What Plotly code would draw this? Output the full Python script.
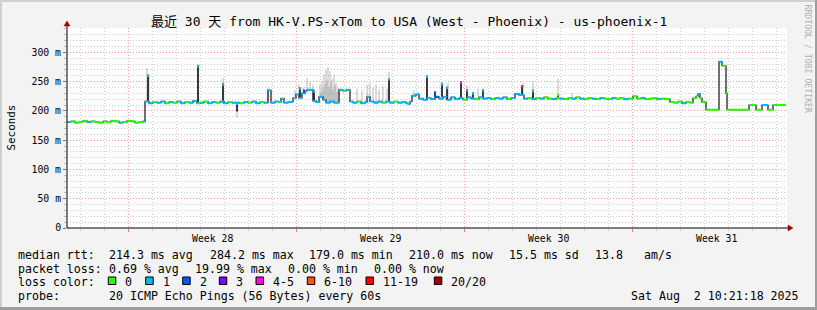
import plotly.graph_objects as go

# ---------------- data (time in hours since start of the 30-day window) ----------------
T_END = 719

med_t = [0, 4, 8, 12, 16, 20, 24, 28, 32, 36, 40, 44, 48, 52, 56, 60, 64, 68, 72, 76,
         78, 82, 86, 90, 94, 98, 102, 106, 110, 114, 118, 122, 126, 130,
         133, 137, 141, 145, 149, 153, 157, 161, 165, 169, 173, 177, 181, 185, 189, 193, 197,
         201, 204, 208, 212, 214, 217, 221, 225,
         226, 229, 232, 235, 238, 240, 246, 249, 252, 256, 259, 263,
         267, 272, 276, 279, 283, 286, 290, 294, 298, 300, 303, 307,
         311, 315, 319, 323, 327, 331, 335, 339, 341, 343, 345, 349,
         352, 356, 360, 364, 368, 372, 376, 380, 384, 388, 392, 396, 400, 404, 408, 412,
         416, 420, 424, 428, 432, 436, 440, 444, 448, 452, 457, 461, 465, 469, 473, 477,
         481, 485, 489, 493, 497, 501, 505, 509, 513, 517, 521, 525, 529, 533, 537, 541,
         545, 549, 553, 557, 561, 566, 570, 574, 578, 582, 586, 590, 594, 598, 603, 607,
         611, 615, 619, 623, 626, 629, 631, 633, 635, 639, 652, 655, 659, 660, 682, 689, 695, 701,
         706]
med_ms = [181, 182, 180, 181, 183, 181, 182, 181, 180, 182, 181, 183, 182, 180, 181, 183, 182, 180, 181, 182,
          216, 213, 215, 214, 216, 213, 215, 214, 216, 213, 215, 214, 217, 213,
          214, 216, 213, 215, 214, 216, 213, 215, 214, 214, 213, 215, 214, 216, 213, 215, 214,
          235, 214, 216, 215, 221, 214, 215, 216,
          222, 228, 222, 230, 234, 236, 217, 215, 224, 219, 214, 216,
          214, 236, 234, 236, 216, 214, 216, 213, 215, 224, 216, 214,
          216, 214, 216, 214, 216, 214, 215, 213, 212, 216, 226, 228,
          221, 219, 222, 220, 224, 221, 224, 219, 223, 220, 222, 219, 223, 221, 220, 223,
          221, 222, 220, 222, 221, 223, 220, 222, 229, 227, 221, 222, 220, 222, 221, 223,
          221, 220, 222, 221, 220, 222, 221, 223, 221, 220, 222, 221, 220, 222, 221, 220,
          222, 221, 222, 220, 221, 225, 221, 222, 220, 221, 222, 220, 221, 220, 215, 214,
          216, 213, 215, 214, 222, 225, 229, 222, 215, 202, 284, 277, 230, 202, 210, 202, 210, 202,
          210]
med_loss = [1, 0, 0, 0, 0, 1, 0, 0, 0, 0, 0, 0, 0, 1, 0, 0, 0, 0, 0, 1,
            1, 1, 0, 1, 1, 0, 1, 0, 1, 1, 0, 1, 1, 0,
            1, 0, 1, 1, 0, 1, 1, 0, 1, 1, 0, 1, 0, 1, 1, 0, 1,
            1, 1, 1, 0, 1, 1, 1, 1,
            1, 1, 1, 1, 1, 1, 1, 1, 1, 1, 1, 1,
            1, 1, 0, 1, 1, 1, 0, 1, 1, 1, 1, 1,
            1, 0, 1, 1, 0, 1, 1, 1, 1, 1, 1, 1,
            1, 1, 1, 1, 2, 1, 1, 1, 1, 1, 1, 0, 1, 1, 0, 1,
            1, 1, 0, 1, 1, 1, 0, 1, 1, 1, 1, 0, 1, 0, 1, 0,
            0, 1, 0, 1, 0, 0, 1, 0, 1, 0, 0, 1, 0, 1, 0, 0,
            1, 0, 0, 1, 0, 0, 0, 1, 0, 0, 0, 1, 0, 0, 0, 0,
            0, 1, 0, 0, 0, 0, 1, 0, 0, 0, 1, 0, 0, 0, 0, 0, 1, 0,
            0]

# dense-smoke (dark) spikes
spike_t = [81, 131, 156, 170, 233, 237, 247, 322, 360, 368, 375, 380, 394, 400, 406, 416, 455, 466, 491]
spike_lo = [216, 214, 214, 199, 222, 230, 217, 215, 221, 224, 224, 219, 222, 223, 221, 221, 227, 222, 220]
spike_hi = [262, 278, 247, 214, 240, 236, 235, 256, 260, 233, 247, 241, 250, 237, 232, 237, 244, 236, 229]
spike_loss = [1, 1, 1, 1, 1, 3, 1, 1, 1, 2, 1, 1, 4, 1, 1, 1, 4, 1, 0]

# light smoke
smoke_t = [80, 82, 131, 156, 170, 201, 228, 232, 236, 240, 243, 246, 253, 254, 255, 256, 257, 258, 259, 260,
           261, 262, 263, 264, 265, 266, 267, 268, 269, 270, 271, 290, 295, 300, 303, 306, 309, 312, 316, 320,
           322, 347, 360, 375, 381, 394, 400, 411, 456, 466, 491, 505]
smoke_lo = [215, 215, 214, 214, 188, 214, 222, 222, 228, 234, 234, 217, 224, 224, 222, 219, 219, 219, 219, 214,
            214, 216, 214, 216, 216, 214, 216, 214, 214, 214, 214, 216, 213, 224, 216, 214, 214, 216, 214, 216,
            215, 226, 221, 224, 219, 222, 223, 223, 227, 222, 220, 221]
smoke_hi = [273, 262, 280, 256, 214, 240, 235, 245, 240, 256, 250, 245, 245, 232, 250, 238, 262, 246, 270, 252,
            275, 240, 268, 248, 255, 236, 262, 244, 248, 232, 240, 238, 235, 244, 247, 240, 245, 236, 242, 238,
            267, 235, 262, 250, 248, 250, 244, 238, 248, 250, 255, 230]

week_t = [61, 229, 397, 565]
week_labels = ["Week 28", "Week 29", "Week 30", "Week 31"]
y_ticks = [0, 50, 100, 150, 200, 250, 300]
y_ticktext = ["0", "50 m", "100 m", "150 m", "200 m", "250 m", "300 m"]

loss_labels = ["0", "1", "2", "3", "4-5", "6-10", "11-19", "20/20"]
loss_colors = ["#26ff00", "#00b8ff", "#0059ff", "#7e00ff", "#ff00ea", "#ff5500", "#ff0000", "#a10000"]

title = "最近 30 天 from HK-V.PS-xTom to USA (West - Phoenix) - us-phoenix-1"
rtt_items = ["214.3 ms avg", "284.2 ms max", "179.0 ms min", "210.0 ms now", "15.5 ms sd", "13.8", "am/s"]
loss_items = ["0.69 % avg", "19.99 % max", "0.00 % min", "0.00 % now"]
probe_text = "20 ICMP Echo Pings (56 Bytes) every 60s"
date_text = "Sat Aug  2 10:21:18 2025"

# ---------------- layout helpers ----------------
W, H = 817, 310
L, R, T, B = 67, 30, 28, 82
PW, PH = W - L - R, H - T - B
BASE = H - B
MONO = "DejaVu Sans Mono"


def px(x):
    return (x - L) / PW


def py(y):
    return (BASE - y) / PH


def bucket(n):
    if n <= 3:
        return n
    if n <= 5:
        return 4
    if n <= 10:
        return 5
    if n <= 19:
        return 6
    return 7


fig = go.Figure()

# light smoke
sx, sy = [], []
for t, lo, hi in zip(smoke_t, smoke_lo, smoke_hi):
    sx += [t, t, None]
    sy += [lo, hi, None]
fig.add_trace(go.Scatter(x=sx, y=sy, mode="lines", line=dict(color="rgba(110,110,110,0.38)", width=1.3),
                         hoverinfo="skip", showlegend=False))

# dark spikes
dx, dy = [], []
for t, lo, hi in zip(spike_t, spike_lo, spike_hi):
    dx += [t, t, None]
    dy += [lo, hi, None]
fig.add_trace(go.Scatter(x=dx, y=dy, mode="lines", line=dict(color="#111111", width=1.6),
                         hoverinfo="skip", showlegend=False))

# median step line (dark verticals)
fig.add_trace(go.Scatter(x=med_t + [T_END], y=med_ms + [med_ms[-1]], mode="lines",
                         line=dict(color="#111111", width=1.2, shape="hv"),
                         hoverinfo="skip", showlegend=False))

# coloured horizontal pieces by loss bucket
ends = med_t[1:] + [T_END]
for b, col in enumerate(loss_colors):
    xs, ys = [], []
    for t0, t1, v, n in zip(med_t, ends, med_ms, med_loss):
        if bucket(n) == b:
            xs += [t0, t1, None]
            ys += [v, v, None]
    if xs:
        fig.add_trace(go.Scatter(x=xs, y=ys, mode="lines", line=dict(color=col, width=2),
                                 hoverinfo="skip", showlegend=False))

# coloured caps on spikes
for b, col in enumerate(loss_colors):
    xs, ys = [], []
    for t, hi, n in zip(spike_t, spike_hi, spike_loss):
        if bucket(n) == b:
            xs += [t, t, None]
            ys += [hi - 4, hi, None]
    if xs:
        fig.add_trace(go.Scatter(x=xs, y=ys, mode="lines", line=dict(color=col, width=2),
                                 hoverinfo="skip", showlegend=False))

minor_days = [d for d in range(13, 720, 24) if d not in week_t]

fig.update_xaxes(range=[0, 720], showline=False, zeroline=False,
                 tickvals=week_t, ticktext=["" for _ in week_t],
                 showgrid=True, gridcolor="#f4a0a0", griddash="1px,2px", gridwidth=1,
                 ticks="outside", ticklen=3, tickcolor="#f08080",
                 minor=dict(tickvals=minor_days, showgrid=True, gridcolor="#cfcfcf",
                            griddash="1px,2px", ticks="outside", ticklen=2, tickcolor="#c8c8c8"),
                 fixedrange=True)
fig.update_yaxes(range=[0, 341.5], showline=False, zeroline=False,
                 tickvals=y_ticks, ticktext=y_ticktext,
                 tickfont=dict(family=MONO, size=9.8, color="#000"),
                 showgrid=True, gridcolor="#f4a0a0", griddash="1px,2px", gridwidth=1,
                 ticks="outside", ticklen=3, tickcolor="#777",
                 minor=dict(dtick=10, showgrid=True, gridcolor="#cfcfcf", griddash="1px,2px",
                            ticks="outside", ticklen=2, tickcolor="#bbb"),
                 fixedrange=True)

shapes = []
# axis lines and arrows
shapes.append(dict(type="line", xref="paper", yref="paper", x0=px(67), y0=py(BASE), x1=px(67), y1=py(25),
                   line=dict(color="#000", width=1)))
shapes.append(dict(type="line", xref="paper", yref="paper", x0=px(67), y0=py(BASE), x1=px(789), y1=py(BASE),
                   line=dict(color="#000", width=1)))
shapes.append(dict(type="path", xref="paper", yref="paper",
                   path=f"M {px(64)} {py(26)} L {px(70)} {py(26)} L {px(67)} {py(21)} Z",
                   fillcolor="#a00000", line=dict(color="#a00000", width=0.5)))
shapes.append(dict(type="path", xref="paper", yref="paper",
                   path=f"M {px(788)} {py(225)} L {px(788)} {py(231)} L {px(793)} {py(BASE)} Z",
                   fillcolor="#a00000", line=dict(color="#a00000", width=0.5)))
# 3D frame
shapes.append(dict(type="rect", xref="paper", yref="paper", x0=px(0), y0=py(0), x1=px(W), y1=py(2),
                   fillcolor="#cfcfcf", line=dict(width=0), layer="below"))
shapes.append(dict(type="rect", xref="paper", yref="paper", x0=px(0), y0=py(0), x1=px(2), y1=py(H),
                   fillcolor="#cfcfcf", line=dict(width=0), layer="below"))
shapes.append(dict(type="rect", xref="paper", yref="paper", x0=px(0), y0=py(H - 3), x1=px(W), y1=py(H),
                   fillcolor="#9e9e9e", line=dict(width=0), layer="below"))
shapes.append(dict(type="rect", xref="paper", yref="paper", x0=px(W - 2), y0=py(0), x1=px(W), y1=py(H),
                   fillcolor="#9e9e9e", line=dict(width=0), layer="below"))

annotations = []


def text(x, y, s, size=11.6, anchor="left", color="#000", angle=0, family=MONO):
    annotations.append(dict(xref="paper", yref="paper", x=px(x), y=py(y), text=s, showarrow=False,
                            xanchor=anchor, yanchor="middle", textangle=angle,
                            font=dict(family=family, size=size, color=color)))


# title and axis labels
text(408.5, 21, title, size=13, anchor="center", family=MONO + ", Noto Sans CJK SC")
text(10.5, 128, "Seconds", size=10.9, anchor="center", angle=-90)
text(807.5, 59, "RRDTOOL / TOBI OETIKER", size=8.2, anchor="center", angle=90, color="#b0b0b0")
for t, lab in zip(week_t, week_labels):
    annotations.append(dict(xref="x", yref="paper", x=t + 84, y=py(238), text=lab, showarrow=False,
                            xanchor="center", yanchor="middle", font=dict(family=MONO, size=9.8, color="#000")))

# legend rows
text(16, 254.5, "median rtt:")
for x, s in zip([107.3, 207.7, 307.3, 407.3, 507.3, 593.3, 642.3], rtt_items):
    text(x, 254.5, s)
text(16, 268.5, "packet loss:")
for x, s in zip([107.3, 192.7, 286, 372.3], loss_items):
    text(x, 268.5, s)
text(16, 282, "loss color:")
for x, lab, col in zip([108.3, 145.7, 182.7, 219.3, 256, 307.3, 366, 434.3], loss_labels, loss_colors):
    shapes.append(dict(type="rect", xref="paper", yref="paper", x0=px(x), y0=py(284.5), x1=px(x + 7.5),
                       y1=py(277), fillcolor=col, line=dict(color="#000", width=1)))
    text(x + 15, 282, lab)
text(16, 296, "probe:")
text(107.3, 296, probe_text)
text(800.5, 296, date_text, anchor="right")

fig.update_layout(width=W, height=H, margin=dict(l=L, r=R, t=T, b=B, pad=0),
                  paper_bgcolor="#f3f3f3", plot_bgcolor="#ffffff",
                  shapes=shapes, annotations=annotations, showlegend=False,
                  font=dict(family=MONO, color="#000"))

fig.write_html("out.html")
